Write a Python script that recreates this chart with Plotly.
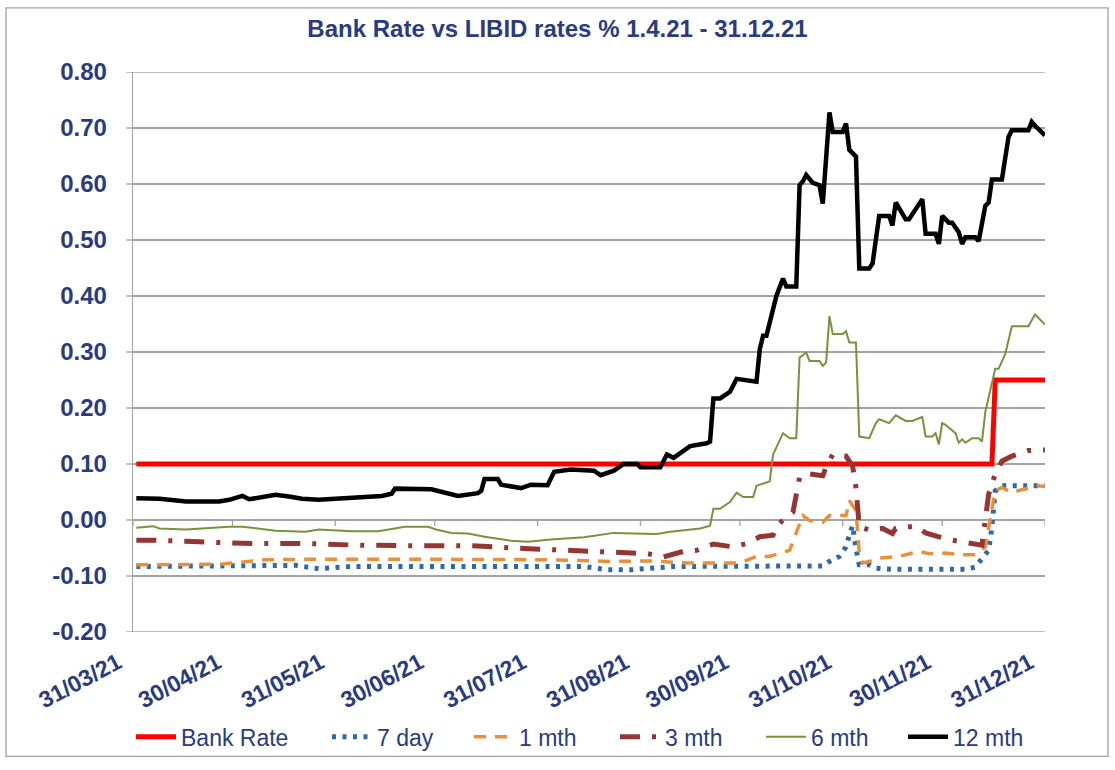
import plotly.graph_objects as go

# ---------------- data ----------------
bank_dates = ["2021-04-01", "2021-12-15", "2021-12-16", "2021-12-31"]
bank_vals = [0.10, 0.10, 0.25, 0.25]

d7_dates = ["2021-04-01", "2021-05-09", "2021-05-19", "2021-05-26", "2021-06-05", "2021-08-14",
            "2021-08-21", "2021-08-28", "2021-09-03", "2021-09-10", "2021-10-25", "2021-10-27",
            "2021-10-30", "2021-11-01", "2021-11-02", "2021-11-03", "2021-11-04", "2021-11-05",
            "2021-11-08", "2021-11-10", "2021-11-15", "2021-12-07", "2021-12-10", "2021-12-12",
            "2021-12-14", "2021-12-15", "2021-12-16", "2021-12-18", "2021-12-31"]
d7_vals = [-0.083, -0.082, -0.081, -0.087, -0.083, -0.083,
           -0.089, -0.089, -0.087, -0.083, -0.082, -0.074,
           -0.065, -0.048, -0.027, -0.010, -0.051, -0.080,
           -0.080, -0.086, -0.088, -0.088, -0.084, -0.068,
           -0.054, -0.012, 0.052, 0.061, 0.061]

m1_dates = ["2021-04-01", "2021-04-26", "2021-05-10", "2021-05-26", "2021-06-23", "2021-07-15",
            "2021-08-04", "2021-08-22", "2021-09-03", "2021-09-15", "2021-09-30", "2021-10-05",
            "2021-10-09", "2021-10-15", "2021-10-16", "2021-10-18", "2021-10-19", "2021-10-21",
            "2021-10-25", "2021-10-27", "2021-11-01", "2021-11-02", "2021-11-04", "2021-11-05",
            "2021-11-06", "2021-11-08", "2021-11-11", "2021-11-17", "2021-11-23", "2021-11-26",
            "2021-12-01", "2021-12-06", "2021-12-10", "2021-12-13", "2021-12-14", "2021-12-16",
            "2021-12-18", "2021-12-21", "2021-12-24", "2021-12-29", "2021-12-31"]
m1_vals = [-0.080, -0.079, -0.071, -0.070, -0.070, -0.071,
           -0.071, -0.074, -0.073, -0.077, -0.077, -0.065,
           -0.065, -0.054, -0.039, -0.010, 0.008, -0.001,
           -0.004, 0.008, 0.008, 0.035, 0.017, -0.059,
           -0.077, -0.074, -0.068, -0.065, -0.056, -0.060,
           -0.059, -0.062, -0.062, -0.048, -0.012, 0.052,
           0.058, 0.049, 0.054, 0.061, 0.060]

m3_dates = ["2021-04-01", "2021-04-06", "2021-04-20", "2021-05-06", "2021-05-22", "2021-06-07",
            "2021-06-25", "2021-07-11", "2021-07-27", "2021-08-13", "2021-08-21", "2021-08-29",
            "2021-09-02", "2021-09-07", "2021-09-13", "2021-09-17", "2021-09-22", "2021-09-28",
            "2021-10-02", "2021-10-06", "2021-10-10", "2021-10-11", "2021-10-16", "2021-10-18",
            "2021-10-20", "2021-10-25", "2021-10-26", "2021-10-28", "2021-11-01", "2021-11-02",
            "2021-11-03", "2021-11-04", "2021-11-05", "2021-11-08", "2021-11-12", "2021-11-15",
            "2021-11-16", "2021-11-22", "2021-11-25", "2021-11-29", "2021-12-02", "2021-12-06",
            "2021-12-12", "2021-12-14", "2021-12-16", "2021-12-18", "2021-12-21", "2021-12-26",
            "2021-12-31"]
m3_vals = [-0.036, -0.036, -0.039, -0.042, -0.042, -0.045,
           -0.046, -0.046, -0.051, -0.055, -0.057, -0.058,
           -0.060, -0.066, -0.056, -0.054, -0.043, -0.048,
           -0.042, -0.030, -0.027, -0.010, 0.014, 0.076,
           0.083, 0.079, 0.095, 0.117, 0.114, 0.105,
           0.096, 0.058, -0.012, -0.018, -0.015, -0.024,
           -0.015, -0.011, -0.023, -0.030, -0.035, -0.039,
           -0.045, 0.046, 0.082, 0.105, 0.114, 0.124,
           0.125]

m6_dates = ["2021-04-01", "2021-04-06", "2021-04-08", "2021-04-16", "2021-04-29", "2021-05-03",
            "2021-05-13", "2021-05-22", "2021-05-26", "2021-06-05", "2021-06-13", "2021-06-21",
            "2021-06-28", "2021-07-01", "2021-07-05", "2021-07-10", "2021-07-15", "2021-07-23",
            "2021-07-28", "2021-08-04", "2021-08-14", "2021-08-23", "2021-08-29", "2021-09-05",
            "2021-09-09", "2021-09-18", "2021-09-21", "2021-09-22", "2021-09-24", "2021-09-27",
            "2021-09-29", "2021-10-01", "2021-10-04", "2021-10-05", "2021-10-08", "2021-10-09",
            "2021-10-10", "2021-10-11", "2021-10-13", "2021-10-15", "2021-10-17", "2021-10-18",
            "2021-10-20", "2021-10-21", "2021-10-24", "2021-10-25", "2021-10-26", "2021-10-27",
            "2021-10-28", "2021-10-31", "2021-11-01", "2021-11-02", "2021-11-04", "2021-11-05",
            "2021-11-08", "2021-11-10", "2021-11-11", "2021-11-14", "2021-11-16", "2021-11-19",
            "2021-11-21", "2021-11-24", "2021-11-25", "2021-11-27", "2021-11-28", "2021-11-29",
            "2021-11-30", "2021-12-01", "2021-12-04", "2021-12-05", "2021-12-06", "2021-12-07",
            "2021-12-09", "2021-12-11", "2021-12-12", "2021-12-13", "2021-12-16", "2021-12-17",
            "2021-12-19", "2021-12-21", "2021-12-26", "2021-12-28", "2021-12-31"]
m6_vals = [-0.014, -0.011, -0.015, -0.017, -0.012, -0.012,
           -0.019, -0.021, -0.017, -0.020, -0.020, -0.012,
           -0.012, -0.018, -0.023, -0.024, -0.030, -0.037,
           -0.039, -0.035, -0.031, -0.023, -0.024, -0.025,
           -0.021, -0.015, -0.010, 0.020, 0.020, 0.032,
           0.049, 0.041, 0.041, 0.061, 0.067, 0.069,
           0.117, 0.129, 0.155, 0.146, 0.146, 0.290,
           0.299, 0.284, 0.284, 0.275, 0.281, 0.364,
           0.332, 0.332, 0.337, 0.317, 0.317, 0.149,
           0.146, 0.173, 0.180, 0.173, 0.187, 0.177,
           0.177, 0.184, 0.149, 0.149, 0.155, 0.135,
           0.173, 0.170, 0.155, 0.138, 0.144, 0.138,
           0.146, 0.146, 0.140, 0.193, 0.270, 0.270,
           0.296, 0.346, 0.346, 0.367, 0.349]

m12_dates = ["2021-04-01", "2021-04-08", "2021-04-16", "2021-04-26", "2021-04-29", "2021-05-03",
             "2021-05-05", "2021-05-13", "2021-05-17", "2021-05-21", "2021-05-26", "2021-06-08",
             "2021-06-14", "2021-06-17", "2021-06-18", "2021-06-29", "2021-07-05", "2021-07-07",
             "2021-07-13", "2021-07-14", "2021-07-15", "2021-07-19", "2021-07-20", "2021-07-23",
             "2021-07-26", "2021-07-29", "2021-08-03", "2021-08-05", "2021-08-10", "2021-08-17",
             "2021-08-19", "2021-08-23", "2021-08-26", "2021-08-30", "2021-08-31", "2021-09-06",
             "2021-09-08", "2021-09-10", "2021-09-15", "2021-09-20", "2021-09-21", "2021-09-22",
             "2021-09-24", "2021-09-27", "2021-09-29", "2021-10-05", "2021-10-06", "2021-10-07",
             "2021-10-08", "2021-10-11", "2021-10-13", "2021-10-14", "2021-10-17", "2021-10-18",
             "2021-10-19", "2021-10-20", "2021-10-22", "2021-10-24", "2021-10-25", "2021-10-27",
             "2021-10-28", "2021-10-31", "2021-11-01", "2021-11-02", "2021-11-04", "2021-11-05",
             "2021-11-08", "2021-11-09", "2021-11-11", "2021-11-14", "2021-11-15", "2021-11-16",
             "2021-11-19", "2021-11-20", "2021-11-24", "2021-11-25", "2021-11-28", "2021-11-29",
             "2021-11-30", "2021-12-02", "2021-12-03", "2021-12-05", "2021-12-06", "2021-12-07",
             "2021-12-10", "2021-12-11", "2021-12-13", "2021-12-14", "2021-12-15", "2021-12-18",
             "2021-12-19", "2021-12-20", "2021-12-21", "2021-12-26", "2021-12-27", "2021-12-28",
             "2021-12-31"]
m12_vals = [0.039, 0.038, 0.033, 0.033, 0.036, 0.043,
            0.037, 0.045, 0.042, 0.038, 0.036, 0.041,
            0.043, 0.047, 0.056, 0.055, 0.047, 0.043,
            0.048, 0.052, 0.073, 0.073, 0.063, 0.059,
            0.057, 0.063, 0.062, 0.086, 0.090, 0.088,
            0.080, 0.088, 0.100, 0.100, 0.094, 0.094,
            0.117, 0.111, 0.132, 0.137, 0.140, 0.217,
            0.217, 0.229, 0.252, 0.247, 0.305, 0.329,
            0.329, 0.400, 0.431, 0.417, 0.417, 0.598,
            0.605, 0.616, 0.602, 0.598, 0.565, 0.728,
            0.693, 0.693, 0.708, 0.661, 0.649, 0.449,
            0.449, 0.458, 0.543, 0.543, 0.526, 0.567,
            0.537, 0.537, 0.573, 0.511, 0.511, 0.493,
            0.543, 0.531, 0.531, 0.514, 0.493, 0.505,
            0.505, 0.498, 0.561, 0.567, 0.608, 0.608,
            0.646, 0.684, 0.696, 0.696, 0.711, 0.704,
            0.687]

tick_dates = ["2021-03-31", "2021-04-30", "2021-05-31", "2021-06-30", "2021-07-31",
              "2021-08-31", "2021-09-30", "2021-10-31", "2021-11-30", "2021-12-31"]
tick_labels = ["31/03/21", "30/04/21", "31/05/21", "30/06/21", "31/07/21",
               "31/08/21", "30/09/21", "31/10/21", "30/11/21", "31/12/21"]

y_tick_vals = [-0.2, -0.1, 0.0, 0.1, 0.2, 0.3, 0.4, 0.5, 0.6, 0.7, 0.8]
y_tick_labels = ["-0.20", "-0.10", "0.00", "0.10", "0.20", "0.30",
                 "0.40", "0.50", "0.60", "0.70", "0.80"]

# ---------------- styling ----------------
NAVY = "#2A3B7E"
FONT = "Liberation Sans, Arial, sans-serif"
GRID = "#A3A3A3"

# figure size = page size (body margin removed below)
W, H = 1115, 770
# plot-area geometry in pixels
L, R, T, B = 133, 70, 72, 131
PW = W - L - R
PH = H - T - B

def px_x(px):
    return (px - L) / PW

def px_y(py):
    return (H - B - py) / PH

series = [
    ("Bank Rate", bank_dates, bank_vals, dict(color="#FF0000", width=5), "legend"),
    ("7 day", d7_dates, d7_vals, dict(color="#2E6AAB", width=5, dash="4px,6.5px"), "legend2"),
    ("1 mth", m1_dates, m1_vals, dict(color="#E8913A", width=3.5, dash="12px,9px"), "legend3"),
    ("3 mth", m3_dates, m3_vals, dict(color="#943634", width=5, dash="20px,12px,4px,12px"), "legend4"),
    ("6 mth", m6_dates, m6_vals, dict(color="#77933C", width=2), "legend5"),
    ("12 mth", m12_dates, m12_vals, dict(color="#000000", width=4.5), "legend6"),
]

fig = go.Figure()
for name, xs, ys, line, lg in series:
    fig.add_trace(go.Scatter(x=xs, y=ys, mode="lines", name=name, line=line,
                             legend=lg, hoverinfo="skip"))

legend_px = [135, 331, 473, 619, 765, 907]
legend_y = px_y(745)
leg_common = dict(orientation="h", yanchor="middle", xanchor="left",
                  font=dict(family=FONT, size=23, color=NAVY), bgcolor="rgba(0,0,0,0)",
                  itemwidth=40)
legends = {}
for i, pxl in enumerate(legend_px):
    key = "legend" if i == 0 else f"legend{i+1}"
    legends[key] = dict(leg_common, x=px_x(pxl - 4), y=legend_y)

fig.update_layout(
    width=W, height=H,
    margin=dict(l=L, r=R, t=T, b=B),
    paper_bgcolor="white", plot_bgcolor="white",
    title=dict(text="<b>Bank Rate vs LIBID rates % 1.4.21 - 31.12.21</b>",
               x=0.5, xanchor="center", xref="container", y=1 - 29 / H, yanchor="middle",
               yref="container",
               font=dict(family=FONT, size=24, color=NAVY)),
    showlegend=True,
    **legends,
    xaxis=dict(type="date", range=["2021-03-31", "2021-12-31"],
               tickmode="array", tickvals=tick_dates,
               ticktext=["<b>" + t + "</b>" for t in tick_labels],
               tickangle=-28, showgrid=False, zeroline=False, showline=False,
               ticks="", ticklabelstandoff=12, ticklabelshift=-15,
               tickfont=dict(family=FONT, size=23, color=NAVY)),
    yaxis=dict(range=[-0.2, 0.8], tickmode="array", tickvals=y_tick_vals,
               ticktext=["<b>" + t + "</b>" for t in y_tick_labels],
               showgrid=True, gridcolor=GRID, gridwidth=1.3,
               showline=True, linecolor=GRID, linewidth=1.3,
               ticks="", zeroline=False, ticklabelstandoff=20,
               tickfont=dict(family=FONT, size=24, color=NAVY)),
)

# horizontal gridlines and left tick marks at the y tick values
for v in y_tick_vals:
    fig.add_shape(type="line", xref="paper", yref="y", x0=0, x1=1, y0=v, y1=v,
                  line=dict(color=GRID, width=1.3), layer="below")
    fig.add_shape(type="line", xref="paper", yref="y", xsizemode="pixel", xanchor=0,
                  x0=-7, x1=0, y0=v, y1=v, line=dict(color=GRID, width=1.3), layer="below")

# short downward tick marks where the date axis crosses zero
for d in tick_dates:
    fig.add_shape(type="line", xref="x", yref="y", ysizemode="pixel", yanchor=0,
                  x0=d, x1=d, y0=0, y1=-6, line=dict(color=GRID, width=1.3), layer="below")

# outer frame around the chart
fig.add_shape(type="rect", xref="paper", yref="paper",
              x0=px_x(6), x1=px_x(1108), y0=px_y(765), y1=px_y(7),
              line=dict(color="#A0A0A0", width=1.3), layer="above")

page_css = ("document.documentElement.style.margin='0';"
            "document.documentElement.style.overflow='hidden';"
            "document.body.style.margin='0';"
            "document.body.style.overflow='hidden';")
fig.write_html("out.html", post_script=page_css,
               config={"displayModeBar": False, "staticPlot": True})
